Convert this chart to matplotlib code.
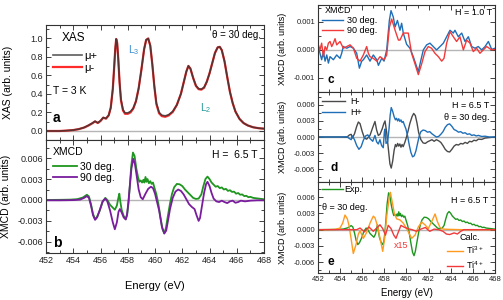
import numpy as np
import matplotlib
matplotlib.use('Agg')
import matplotlib.pyplot as plt
from matplotlib.ticker import MultipleLocator, FuncFormatter

plt.rcParams['font.family'] = ['Liberation Sans', 'DejaVu Sans']
plt.rcParams['axes.unicode_minus'] = False
plt.rcParams['mathtext.default'] = 'regular'

# ---- panel a: XAS (energy eV, intensity) ----
xas_mu_plus = [
    (452.0, 0.0), (453.0, 0.0), (453.5, 0.004), (454.0, 0.01), (454.4, 0.02), (454.8, 0.038),
    (455.1, 0.06), (455.4, 0.085), (455.6, 0.105), (455.8, 0.088), (456.0, 0.11), (456.2, 0.145),
    (456.4, 0.135), (456.6, 0.17), (456.75, 0.25), (456.9, 0.45), (457.0, 0.68), (457.08, 0.88),
    (457.15, 0.99), (457.22, 0.95), (457.3, 0.78), (457.4, 0.52), (457.5, 0.34), (457.65, 0.23),
    (457.8, 0.195), (458.0, 0.195), (458.2, 0.21), (458.4, 0.245), (458.6, 0.32), (458.8, 0.46),
    (459.0, 0.66), (459.2, 0.88), (459.35, 0.98), (459.5, 0.995), (459.65, 0.92), (459.8, 0.72),
    (459.95, 0.48), (460.1, 0.3), (460.3, 0.2), (460.5, 0.17), (460.75, 0.163), (461.0, 0.175),
    (461.3, 0.21), (461.6, 0.28), (461.9, 0.4), (462.1, 0.52), (462.3, 0.64), (462.45, 0.70),
    (462.6, 0.67), (462.8, 0.57), (463.0, 0.49), (463.2, 0.455), (463.4, 0.45), (463.6, 0.47),
    (463.8, 0.53), (464.0, 0.62), (464.2, 0.73), (464.4, 0.84), (464.6, 0.9), (464.75, 0.905),
    (464.9, 0.87), (465.1, 0.75), (465.3, 0.58), (465.5, 0.42), (465.7, 0.3), (465.9, 0.21),
    (466.2, 0.13), (466.5, 0.085), (466.8, 0.06), (467.2, 0.04), (467.6, 0.03), (468.0, 0.025),
]
xas_mu_minus = [
    (452.0, 0.0), (453.0, 0.0), (453.5, 0.004), (454.0, 0.01), (454.4, 0.02), (454.8, 0.037),
    (455.1, 0.058), (455.4, 0.083), (455.6, 0.103), (455.8, 0.086), (456.0, 0.108), (456.2, 0.143),
    (456.4, 0.133), (456.6, 0.168), (456.75, 0.25), (456.9, 0.45), (457.0, 0.68), (457.08, 0.88),
    (457.15, 0.99), (457.22, 0.95), (457.3, 0.78), (457.4, 0.52), (457.5, 0.33), (457.65, 0.22),
    (457.8, 0.185), (458.0, 0.185), (458.2, 0.20), (458.4, 0.24), (458.6, 0.32), (458.8, 0.46),
    (459.0, 0.66), (459.2, 0.88), (459.35, 0.98), (459.5, 0.995), (459.65, 0.92), (459.8, 0.72),
    (459.95, 0.48), (460.1, 0.29), (460.3, 0.19), (460.5, 0.16), (460.75, 0.153), (461.0, 0.167),
    (461.3, 0.205), (461.6, 0.28), (461.9, 0.4), (462.1, 0.52), (462.3, 0.64), (462.45, 0.70),
    (462.6, 0.67), (462.8, 0.57), (463.0, 0.485), (463.2, 0.45), (463.4, 0.445), (463.6, 0.465),
    (463.8, 0.53), (464.0, 0.62), (464.2, 0.73), (464.4, 0.84), (464.6, 0.9), (464.75, 0.905),
    (464.9, 0.87), (465.1, 0.75), (465.3, 0.58), (465.5, 0.42), (465.7, 0.3), (465.9, 0.21),
    (466.2, 0.13), (466.5, 0.085), (466.8, 0.06), (467.2, 0.04), (467.6, 0.03), (468.0, 0.025),
]

# ---- panel b: XMCD at 6.5 T (values in 1e-3) ----
xmcd_30deg = [
    (452.0, 0.0), (453.0, 0.02), (453.8, 0.05), (454.3, 0.12), (454.7, 0.35), (455.0, 0.75),
    (455.15, 0.5), (455.3, -0.6), (455.45, -2.0), (455.6, -2.75), (455.75, -2.4), (455.95, -1.5),
    (456.15, -0.3), (456.35, 0.3), (456.5, 0.0), (456.7, -0.7), (456.9, -1.1), (457.05, -1.4),
    (457.2, -0.8), (457.3, 0.2), (457.38, 0.9), (457.45, -0.2), (457.55, -1.4), (457.7, -2.3),
    (457.85, -2.75), (457.95, -2.2), (458.05, -0.5), (458.15, 2.0), (458.25, 4.8), (458.38, 6.8),
    (458.5, 6.3), (458.62, 4.6), (458.75, 3.3), (458.85, 2.6), (458.95, 2.8), (459.05, 2.5),
    (459.15, 2.9), (459.22, 2.5), (459.3, 3.3), (459.38, 2.6), (459.45, 3.0), (459.55, 2.4),
    (459.65, 2.7), (459.75, 2.3), (459.85, 2.5), (459.95, 1.8), (460.1, 0.8), (460.25, -0.6),
    (460.4, -2.5), (460.55, -4.2), (460.68, -4.8), (460.8, -4.0), (460.95, -2.2), (461.1, -0.5),
    (461.25, 0.9), (461.4, 1.8), (461.6, 2.3), (461.8, 2.25), (462.0, 2.0), (462.2, 1.5),
    (462.4, 1.1), (462.6, 0.7), (462.8, 0.3), (463.0, 0.15), (463.2, 0.2), (463.4, 0.8),
    (463.55, 2.0), (463.7, 3.0), (463.85, 3.35), (464.0, 3.0), (464.15, 2.5), (464.3, 2.2),
    (464.45, 1.9), (464.6, 2.0), (464.75, 1.7), (464.9, 1.8), (465.05, 1.5), (465.2, 1.6),
    (465.35, 1.3), (465.5, 1.4), (465.65, 1.15), (465.8, 1.2), (465.95, 0.9), (466.1, 1.0),
    (466.25, 0.75), (466.4, 0.8), (466.55, 0.55), (466.7, 0.6), (466.85, 0.4), (467.0, 0.45),
    (467.2, 0.3), (467.4, 0.25), (467.6, 0.2), (467.8, 0.15), (468.0, 0.1),
]
xmcd_90deg = [
    (452.0, -0.05), (453.0, -0.05), (454.0, -0.02), (454.5, 0.05), (454.8, 0.3), (455.0, 0.55),
    (455.15, 0.3), (455.3, -0.8), (455.45, -2.2), (455.6, -2.85), (455.75, -2.5), (455.95, -1.4),
    (456.15, -0.2), (456.35, 0.2), (456.5, -0.2), (456.7, -1.5), (456.9, -3.2), (457.05, -4.2),
    (457.2, -3.2), (457.32, -1.7), (457.42, -1.3), (457.55, -1.8), (457.7, -2.5), (457.85, -2.8),
    (457.95, -2.0), (458.05, -0.2), (458.15, 2.0), (458.27, 4.5), (458.4, 5.9), (458.52, 5.2),
    (458.65, 3.5), (458.8, 1.5), (458.95, 0.4), (459.1, 0.1), (459.3, 0.9), (459.5, 1.6),
    (459.7, 1.9), (459.85, 1.7), (460.0, 0.9), (460.15, -0.3), (460.3, -1.5), (460.5, -3.8),
    (460.68, -4.8), (460.82, -4.4), (460.95, -3.0), (461.1, -1.3), (461.3, 0.3), (461.5, 1.2),
    (461.7, 1.5), (461.9, 1.3), (462.1, 0.8), (462.3, 0.1), (462.5, -0.6), (462.7, -1.0),
    (462.9, -1.3), (463.05, -2.2), (463.2, -3.0), (463.3, -2.6), (463.45, -0.8), (463.6, 1.0),
    (463.75, 2.3), (463.85, 2.6), (464.0, 2.0), (464.15, 1.0), (464.3, 0.2), (464.5, -0.2),
    (464.7, -0.3), (464.9, -0.1), (465.1, -0.3), (465.3, -0.45), (465.5, -0.2), (465.7, -0.1),
    (465.9, -0.4), (466.1, -0.3), (466.3, -0.1), (466.6, -0.2), (467.0, -0.1), (467.5, -0.05),
    (468.0, -0.05),
]

# ---- panel c: XMCD at 1.0 T (1e-3) ----
c_30deg = [
    (452.03, 0.12), (452.18, -0.12), (452.33, -0.35), (452.49, -0.06), (452.64, -0.4), (452.79, -0.18),
    (452.94, -0.47), (453.09, -0.24), (453.39, -0.35), (453.69, -0.18), (453.99, -0.3), (454.14, -0.12),
    (454.29, 0.12), (454.6, 0.06), (454.9, 0.12), (455.2, 0.06), (455.5, -0.12), (455.74, -0.65),
    (455.95, -0.4), (456.1, -0.35), (456.4, -0.18), (456.7, -0.4), (457.0, -0.18), (457.31, -0.35),
    (457.46, -0.55), (457.76, -0.3), (457.97, -0.4), (458.21, 0.0), (458.45, 1.05), (458.6, 1.4),
    (458.8, 1.18), (458.97, 0.82), (459.18, 1.05), (459.41, 0.7), (459.56, 0.95), (459.71, 0.6),
    (460.01, 0.2), (460.31, 0.06), (460.62, -0.25), (460.92, -0.6), (461.07, -0.77), (461.28, -0.4),
    (461.52, 0.0), (461.82, 0.18), (462.12, 0.24), (462.42, 0.12), (462.72, 0.0), (463.03, 0.12),
    (463.33, 0.24), (463.63, 0.47), (463.93, 0.7), (464.23, 0.6), (464.38, 0.7), (464.68, 0.47),
    (464.99, 0.6), (465.29, 0.3), (465.59, 0.47), (465.89, 0.12), (466.19, 0.06), (466.49, 0.12),
    (466.79, 0.0), (467.1, 0.12), (467.4, 0.3), (467.7, 0.02), (468.0, 0.06),
]
c_90deg = [
    (452.03, 0.18), (452.18, 0.0), (452.33, 0.24), (452.49, -0.24), (452.64, 0.12), (452.79, 0.0),
    (452.94, 0.24), (453.09, 0.3), (453.24, 0.12), (453.39, 0.24), (453.54, 0.4), (453.69, 0.18),
    (453.99, 0.3), (454.29, 0.06), (454.6, 0.12), (454.9, 0.18), (455.2, 0.06), (455.5, -0.3),
    (455.8, -0.4), (456.1, -0.18), (456.4, 0.12), (456.55, -0.12), (456.7, -0.24), (457.0, -0.3),
    (457.31, -0.4), (457.61, -0.24), (457.97, -0.35), (458.21, -0.18), (458.45, 0.8), (458.66, 1.1),
    (458.97, 0.7), (459.27, 0.35), (459.41, 0.35), (459.71, 0.6), (460.16, 0.6), (460.46, -0.12),
    (460.77, -0.5), (461.07, -0.88), (461.37, -0.5), (461.67, -0.06), (461.97, 0.12), (462.27, 0.06),
    (462.57, -0.12), (462.88, -0.24), (463.18, -0.4), (463.39, -0.3), (463.63, 0.24), (463.93, 0.65),
    (464.23, 0.47), (464.53, 0.3), (464.83, 0.47), (465.14, 0.0), (465.44, 0.35), (465.74, 0.24),
    (466.04, -0.06), (466.34, 0.06), (466.64, -0.12), (466.94, 0.0), (467.25, 0.12), (467.7, 0.0),
    (468.0, 0.02),
]

# ---- panel d: field reversal at 6.5 T, 30 deg (1e-3) ----
d_h_minus = [
    (452.0, 0.0), (454.0, 0.0), (454.6, -0.05), (454.85, 0.4), (455.0, 0.5), (455.1, -0.2),
    (455.3, 0.6), (455.5, 2.0), (455.65, 2.8), (455.8, 2.5), (456.0, 1.0), (456.2, -0.2),
    (456.4, -0.4), (456.7, 0.3), (456.95, 1.8), (457.15, 2.9), (457.3, 1.3), (457.45, 0.3),
    (457.6, 0.5), (457.8, 1.5), (457.95, 2.5), (458.06, 3.0), (458.2, 1.0), (458.35, -2.0),
    (458.5, -5.0), (458.62, -5.8), (458.75, -4.5), (458.88, -2.5), (459.0, -1.4), (459.1, -1.8),
    (459.2, -1.2), (459.3, -1.7), (459.4, -1.3), (459.5, -1.9), (459.6, -1.4), (459.7, -1.8),
    (459.85, -1.0), (460.0, 0.0), (460.15, 1.2), (460.3, 2.5), (460.5, 3.8), (460.65, 4.4),
    (460.8, 4.0), (460.95, 2.6), (461.1, 0.8), (461.3, -0.5), (461.5, -1.1), (461.7, -1.2),
    (461.9, -0.9), (462.1, -0.7), (462.3, -0.5), (462.5, -0.8), (462.7, -0.5), (462.9, -0.7),
    (463.1, -1.0), (463.3, -1.6), (463.5, -2.3), (463.7, -2.7), (463.9, -2.8), (464.1, -2.3),
    (464.3, -1.7), (464.5, -1.4), (464.7, -1.5), (464.9, -1.2), (465.1, -1.3), (465.3, -1.0),
    (465.5, -1.2), (465.7, -0.8), (465.9, -0.9), (466.1, -0.6), (466.3, -0.7), (466.5, -0.4),
    (466.8, -0.45), (467.1, -0.2), (467.5, -0.1), (468.0, 0.0),
]
d_h_plus = [
    (452.0, 0.0), (454.0, 0.0), (454.6, 0.05), (454.85, -0.3), (455.0, -0.5), (455.1, 0.2),
    (455.3, -0.5), (455.5, -1.6), (455.7, -2.3), (455.9, -1.8), (456.1, -0.6), (456.3, 0.2),
    (456.5, 0.4), (456.7, -0.3), (456.95, -0.8), (457.15, 0.3), (457.3, -0.9), (457.45, -1.3),
    (457.6, -0.5), (457.75, -1.6), (457.9, -2.0), (458.0, 1.0), (458.06, 1.5), (458.15, -1.2),
    (458.3, -0.8), (458.42, 1.5), (458.52, 4.0), (458.62, 5.5), (458.75, 4.8), (458.88, 3.8),
    (459.0, 3.2), (459.1, 3.5), (459.2, 3.0), (459.3, 3.4), (459.4, 2.9), (459.5, 3.2),
    (459.6, 2.7), (459.7, 2.9), (459.8, 2.3), (459.95, 1.5), (460.1, 0.2), (460.25, -1.5),
    (460.4, -2.9), (460.55, -3.7), (460.7, -3.5), (460.85, -2.6), (461.0, -1.2), (461.15, 0.2),
    (461.3, 1.0), (461.5, 1.3), (461.7, 1.2), (461.9, 0.9), (462.1, 1.0), (462.3, 0.6),
    (462.5, 0.3), (462.7, 0.0), (462.9, 0.1), (463.1, 0.5), (463.3, 1.0), (463.5, 1.8),
    (463.7, 2.3), (463.9, 2.45), (464.1, 2.0), (464.3, 1.4), (464.5, 1.2), (464.7, 0.9),
    (464.9, 1.0), (465.1, 0.7), (465.3, 0.8), (465.5, 0.5), (465.7, 0.6), (465.9, 0.3),
    (466.1, 0.4), (466.3, 0.2), (466.5, 0.3), (466.8, 0.1), (467.1, 0.15), (467.5, 0.0),
    (468.0, 0.0),
]

# ---- panel e: calculations (1e-3); Ti4+ already multiplied by 15 ----
calc_ti3 = [
    (452.0, 0.0), (453.0, 0.02), (453.54, 0.05), (453.99, 0.3), (454.23, 1.2), (454.44, 2.7),
    (454.65, 2.0), (454.8, 0.8), (454.98, -1.5), (455.19, -4.4), (455.43, -2.8), (455.65, -0.8),
    (455.8, -0.2), (456.1, -1.6), (456.4, -0.5), (456.7, 1.2), (457.0, 2.5), (457.15, 2.2),
    (457.36, 0.8), (457.6, -1.5), (457.85, -4.0), (458.03, -1.5), (458.21, 2.5), (458.45, 6.0),
    (458.54, 6.9), (458.72, 5.0), (458.9, 3.0), (459.11, 2.0), (459.41, 1.8), (459.71, 1.2),
    (460.01, 0.2), (460.26, -0.8), (460.47, -1.6), (460.77, -1.0), (461.07, 0.5), (461.37, 1.4),
    (461.67, 0.9), (461.97, 0.2), (462.28, 1.5), (462.58, 2.9), (462.79, 1.5), (463.03, 0.4),
    (463.33, 0.1), (463.93, 0.05), (465.0, 0.0), (468.0, 0.0),
]
calc_ti4_x15 = [
    (452.0, 0.0), (455.5, 0.0), (455.8, 0.3), (456.2, -0.4), (456.6, 0.5), (457.0, -0.3),
    (457.3, 0.3), (457.6, 0.9), (457.85, 0.2), (458.1, -1.0), (458.35, 0.8), (458.6, 0.2),
    (458.85, -1.0), (459.05, -1.6), (459.25, -0.5), (459.5, 0.8), (459.75, 0.5), (460.1, 0.2),
    (460.5, 0.0), (460.9, -0.3), (461.3, 0.1), (461.7, 0.4), (462.1, -0.3), (462.5, 0.1),
    (462.9, 0.0), (463.3, -0.3), (463.6, -0.8), (463.9, -0.9), (464.3, -0.6), (464.6, -0.8),
    (464.9, -0.3), (465.2, 0.0), (468.0, 0.0),
]


def xy(pairs, scale=1.0):
    arr = np.array(pairs, dtype=float)
    return arr[:, 0], arr[:, 1] * scale


def fmt3(v, pos):
    if abs(v) < 1e-9:
        return '0.000'
    return f'{v:.3f}'


def style(ax, ymaj, ymin, fmt, labsize, show_x):
    ax.set_xlim(452, 468)
    ax.xaxis.set_major_locator(MultipleLocator(2))
    ax.xaxis.set_minor_locator(MultipleLocator(1))
    ax.yaxis.set_major_locator(MultipleLocator(ymaj))
    ax.yaxis.set_minor_locator(MultipleLocator(ymin))
    ax.yaxis.set_major_formatter(FuncFormatter(fmt))
    ax.tick_params(which='both', direction='in', top=True, right=True,
                   labelsize=labsize, width=0.6, pad=2, colors='#222222')
    ax.tick_params(which='major', length=3.5)
    ax.tick_params(which='minor', length=2)
    if not show_x:
        ax.tick_params(labelbottom=False)
    for s in ax.spines.values():
        s.set_linewidth(0.8)
        s.set_color('#333333')
    ax.axhline(0, color='#b5b5b5', lw=1.0, zorder=0)


GREEN = '#1f961f'
PURPLE = '#7a1c9e'
BLUE = '#1f6fb8'
RED = '#f23a3a'
GRAY = '#4a4a4a'
ORANGE = '#ff9a1e'

fig = plt.figure(figsize=(5.03, 3.0), dpi=100)
ax_a = fig.add_axes([0.0915, 0.5333, 0.4334, 0.3833])
ax_b = fig.add_axes([0.0915, 0.1567, 0.4334, 0.3767])
ax_c = fig.add_axes([0.6322, 0.6933, 0.3519, 0.29])
ax_d = fig.add_axes([0.6322, 0.3933, 0.3519, 0.30])
ax_e = fig.add_axes([0.6322, 0.09, 0.3519, 0.3033])

# panel a: the two helicities overlap almost everywhere
style(ax_a, 0.2, 0.1, lambda v, p: f'{v:.1f}', 6.5, False)
ax_a.set_ylim(-0.097, 1.14)
e, y = xy(xas_mu_minus)
l_minus, = ax_a.plot(e, y, color='#ff2a2a', lw=1.6, zorder=2)
e, y = xy(xas_mu_plus)
l_plus, = ax_a.plot(e, y, color='#333333', lw=1.2, alpha=0.8, zorder=3)
ax_a.legend([l_plus, l_minus], [u'\u03bc+', u'\u03bc-'], loc='upper left',
            bbox_to_anchor=(0.032, 0.777), frameon=False,
            fontsize=8, handlelength=2.6, handletextpad=0.2, labelspacing=0.2,
            borderpad=0, borderaxespad=0)
ax_a.text(0.073, 0.887, 'XAS', transform=ax_a.transAxes, fontsize=8.5, va='center')
ax_a.text(0.032, 0.426, 'T = 3 K', transform=ax_a.transAxes, fontsize=7.5, va='center')
ax_a.text(0.028, 0.19, 'a', transform=ax_a.transAxes, fontsize=10, fontweight='bold', va='center')
ax_a.text(0.985, 0.913, u'\u03b8 = 30 deg.', transform=ax_a.transAxes, fontsize=7, va='center', ha='right')
ax_a.text(0.376, 0.783, 'L$_3$', transform=ax_a.transAxes, fontsize=7.5, color='#3d8fd1', va='center')
ax_a.text(0.706, 0.278, 'L$_2$', transform=ax_a.transAxes, fontsize=7.5, color='#2a9a9a', va='center')
ax_a.set_ylabel('XAS (arb. units)', fontsize=7.5)
ax_a.yaxis.set_label_coords(-0.15, 0.5)

# panel b
style(ax_b, 0.003, 0.0015, fmt3, 6.5, True)
ax_b.set_ylim(-0.0076, 0.0086)
e, y = xy(xmcd_30deg, 1e-3)
ax_b.plot(e, y, color=GREEN, lw=1.3, label='30 deg.')
e, y = xy(xmcd_90deg, 1e-3)
ax_b.plot(e, y, color=PURPLE, lw=1.3, label='90 deg.')
ax_b.legend(loc='upper left', bbox_to_anchor=(0.032, 0.805), frameon=False,
            fontsize=7.5, handlelength=2.3, handletextpad=0.3, labelspacing=0.05,
            borderpad=0, borderaxespad=0)
ax_b.text(0.032, 0.894, 'XMCD', transform=ax_b.transAxes, fontsize=7.5, va='center')
ax_b.text(0.968, 0.867, 'H =  6.5 T', transform=ax_b.transAxes, fontsize=7.5, va='center', ha='right')
ax_b.text(0.032, 0.09, 'b', transform=ax_b.transAxes, fontsize=10, fontweight='bold', va='center')
ax_b.set_ylabel('XMCD (arb. units)', fontsize=7.5)
ax_b.yaxis.set_label_coords(-0.16, 0.5)
ax_b.set_xlabel('Energy (eV)', fontsize=8)
ax_b.xaxis.set_label_coords(0.5, -0.25)

# panel c
style(ax_c, 0.001, 0.0005, fmt3, 5.5, False)
ax_c.set_ylim(-0.0015, 0.0016)
e, y = xy(c_30deg, 1e-3)
ax_c.plot(e, y, color=BLUE, lw=1.0, label='30 deg.')
e, y = xy(c_90deg, 1e-3)
ax_c.plot(e, y, color=RED, lw=1.0, label='90 deg.')
ax_c.legend(loc='upper left', bbox_to_anchor=(0.023, 0.876), frameon=False,
            fontsize=6.5, handlelength=2.3, handletextpad=0.45, labelspacing=0.18,
            borderpad=0, borderaxespad=0)
ax_c.text(0.04, 0.94, 'XMCD', transform=ax_c.transAxes, fontsize=6.5, va='center')
ax_c.text(0.985, 0.91, 'H = 1.0 T', transform=ax_c.transAxes, fontsize=6.5, va='center', ha='right')
ax_c.text(0.056, 0.138, 'c', transform=ax_c.transAxes, fontsize=8.5, fontweight='bold', va='center')
ax_c.set_ylabel('XMCD (arb. units)', fontsize=6.5)
ax_c.yaxis.set_label_coords(-0.175, 0.5)

# panel d
style(ax_d, 0.003, 0.0015, fmt3, 5.5, False)
ax_d.set_ylim(-0.0084, 0.0084)
e, y = xy(d_h_minus, 1e-3)
ax_d.plot(e, y, color=GRAY, lw=1.0, label='H-')
e, y = xy(d_h_plus, 1e-3)
ax_d.plot(e, y, color=BLUE, lw=1.0, label='H+')
ax_d.legend(loc='upper left', bbox_to_anchor=(0.023, 0.947), frameon=False,
            fontsize=6.5, handlelength=2.55, handletextpad=0.55, labelspacing=0.29,
            borderpad=0, borderaxespad=0)
ax_d.text(0.97, 0.855, 'H = 6.5 T', transform=ax_d.transAxes, fontsize=6.5, va='center', ha='right')
ax_d.text(0.97, 0.72, u'\u03b8 = 30 deg.', transform=ax_d.transAxes, fontsize=6.5, va='center', ha='right')
ax_d.text(0.068, 0.155, 'd', transform=ax_d.transAxes, fontsize=8.5, fontweight='bold', va='center')
ax_d.set_ylabel('XMCD (arb. units)', fontsize=6.5)
ax_d.yaxis.set_label_coords(-0.175, 0.5)

# panel e
style(ax_e, 0.003, 0.0015, fmt3, 5.5, True)
ax_e.set_ylim(-0.008, 0.0088)
e, y = xy(xmcd_30deg, 1e-3)
l_exp, = ax_e.plot(e, y, color=GREEN, lw=1.0, label='Exp.')
e, y = xy(calc_ti3, 1e-3)
l_t3, = ax_e.plot(e, y, color=ORANGE, lw=1.0, label='Ti$^{3+}$')
e, y = xy(calc_ti4_x15, 1e-3)
l_t4, = ax_e.plot(e, y, color=RED, lw=1.0, label='Ti$^{4+}$')
leg1 = ax_e.legend([l_exp], ['Exp.'], loc='upper left', bbox_to_anchor=(0.023, 0.969), frameon=False,
                   fontsize=6.5, handlelength=2.3, handletextpad=0.2, borderpad=0, borderaxespad=0)
ax_e.add_artist(leg1)
ax_e.legend([l_t3, l_t4], ['Ti$^{3+}$', 'Ti$^{4+}$'], loc='upper left', bbox_to_anchor=(0.729, 0.31),
            frameon=False, fontsize=6.5, handlelength=1.8, handletextpad=0.33, labelspacing=0.3,
            borderpad=0, borderaxespad=0)
ax_e.text(0.80, 0.385, 'Calc.', transform=ax_e.transAxes, fontsize=6.5, va='center')
ax_e.text(0.023, 0.725, u'\u03b8 = 30 deg.', transform=ax_e.transAxes, fontsize=6.5, va='center')
ax_e.text(0.96, 0.80, 'H = 6.5 T', transform=ax_e.transAxes, fontsize=6.5, va='center', ha='right')
ax_e.text(459.5, -0.0029, 'x15', fontsize=6.5, color=RED, va='center', ha='center')
ax_e.text(0.056, 0.12, 'e', transform=ax_e.transAxes, fontsize=8.5, fontweight='bold', va='center')
ax_e.set_ylabel('XMCD (arb. units)', fontsize=6.5)
ax_e.yaxis.set_label_coords(-0.175, 0.5)
ax_e.set_xlabel('Energy (eV)', fontsize=7)
ax_e.xaxis.set_label_coords(0.5, -0.17)

fig.savefig('out.png', dpi=100)
